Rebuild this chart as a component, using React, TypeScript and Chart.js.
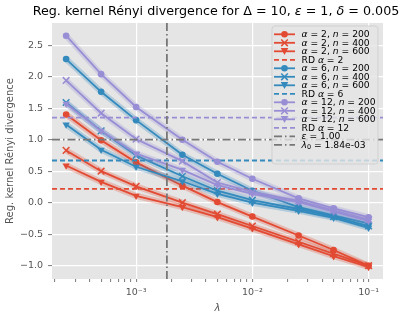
import React, { useEffect, useRef } from "react";
import { Chart, registerables } from "chart.js";

Chart.register(...registerables);

// ---------- data ----------
const lambdas = [2.5e-4, 5e-4, 1e-3, 2.5e-3, 5e-3, 1e-2, 2.5e-2, 5e-2, 1e-1];

const a2n200 = [1.4, 0.99, 0.64, 0.27, 0.01, -0.22, -0.52, -0.75, -1.0];
const a2n400 = [0.83, 0.5, 0.26, 0.0, -0.18, -0.37, -0.62, -0.81, -1.0];
const a2n600 = [0.59, 0.33, 0.11, -0.07, -0.23, -0.41, -0.66, -0.85, -1.02];

const a6n200 = [2.28, 1.76, 1.31, 0.76, 0.46, 0.19, -0.07, -0.2, -0.33];
const a6n400 = [1.59, 1.14, 0.75, 0.42, 0.19, 0.04, -0.1, -0.22, -0.37];
const a6n600 = [1.24, 0.84, 0.57, 0.34, 0.14, 0.0, -0.13, -0.24, -0.4];

const a12n200 = [2.65, 2.04, 1.52, 1.0, 0.65, 0.38, 0.07, -0.09, -0.23];
const a12n400 = [1.94, 1.42, 1.01, 0.66, 0.32, 0.17, 0.03, -0.12, -0.27];
const a12n600 = [1.57, 1.14, 0.78, 0.52, 0.28, 0.14, 0.01, -0.14, -0.29];

const rdA2 = 0.22;
const rdA6 = 0.67;
const rdA12 = 1.35;
const epsilonValue = 1.0;
const lambda0 = 1.84e-3;

const yTickValues = [-1.0, -0.5, 0.0, 0.5, 1.0, 1.5, 2.0, 2.5];
const xMin = 1.89e-4;
const xMax = 0.133;
const yMin = -1.211;
const yMax = 2.852;

// ---------- style ----------
const RED = "#E24A33";
const BLUE = "#348ABD";
const PURPLE = "#988ED5";
const GRAY = "#777777";
const FONT = '"DejaVu Sans", sans-serif';

function alpha(hex: string, a: number) {
  const r = parseInt(hex.slice(1, 3), 16);
  const g = parseInt(hex.slice(3, 5), 16);
  const b = parseInt(hex.slice(5, 7), 16);
  return `rgba(${r},${g},${b},${a})`;
}

type Seg = { t: string; it?: boolean; sub?: boolean };

function segWidth(ctx: CanvasRenderingContext2D, segs: Seg[], size: number) {
  let w = 0;
  for (const s of segs) {
    const sz = s.sub ? size * 0.7 : size;
    ctx.font = `${s.it ? "italic " : ""}${sz}px ${FONT}`;
    w += ctx.measureText(s.t).width;
  }
  return w;
}

function drawRich(
  ctx: CanvasRenderingContext2D,
  segs: Seg[],
  x: number,
  y: number,
  size: number,
  align: "left" | "center",
  color: string
) {
  const w = segWidth(ctx, segs, size);
  let cx = align === "center" ? x - w / 2 : x;
  ctx.fillStyle = color;
  ctx.textBaseline = "middle";
  ctx.textAlign = "left";
  for (const s of segs) {
    const sz = s.sub ? size * 0.7 : size;
    ctx.font = `${s.it ? "italic " : ""}${sz}px ${FONT}`;
    ctx.fillText(s.t, cx, y + (s.sub ? size * 0.25 : 0));
    cx += ctx.measureText(s.t).width;
  }
}

type SeriesDef = {
  alpha: string;
  n: string;
  values: number[];
  color: string;
  marker: "circle" | "cross" | "tri";
};

const series: SeriesDef[] = [
  { alpha: "2", n: "200", values: a2n200, color: RED, marker: "circle" },
  { alpha: "2", n: "400", values: a2n400, color: RED, marker: "cross" },
  { alpha: "2", n: "600", values: a2n600, color: RED, marker: "tri" },
  { alpha: "6", n: "200", values: a6n200, color: BLUE, marker: "circle" },
  { alpha: "6", n: "400", values: a6n400, color: BLUE, marker: "cross" },
  { alpha: "6", n: "600", values: a6n600, color: BLUE, marker: "tri" },
  { alpha: "12", n: "200", values: a12n200, color: PURPLE, marker: "circle" },
  { alpha: "12", n: "400", values: a12n400, color: PURPLE, marker: "cross" },
  { alpha: "12", n: "600", values: a12n600, color: PURPLE, marker: "tri" },
];

const rdLines = [
  { alpha: "2", value: rdA2, color: RED },
  { alpha: "6", value: rdA6, color: BLUE },
  { alpha: "12", value: rdA12, color: PURPLE },
];

type LegendItem = {
  kind: "series" | "dash" | "dashdot";
  color: string;
  marker?: "circle" | "cross" | "tri";
  segs: Seg[];
};

function buildLegend(): LegendItem[] {
  const items: LegendItem[] = [];
  rdLines.forEach((rd, gi) => {
    for (let k = 0; k < 3; k++) {
      const s = series[gi * 3 + k];
      items.push({
        kind: "series",
        color: s.color,
        marker: s.marker,
        segs: [{ t: "α", it: true }, { t: ` = ${s.alpha}, ` }, { t: "n", it: true }, { t: ` = ${s.n}` }],
      });
    }
    items.push({ kind: "dash", color: rd.color, segs: [{ t: "RD " }, { t: "α", it: true }, { t: ` = ${rd.alpha}` }] });
  });
  items.push({ kind: "dashdot", color: GRAY, segs: [{ t: "ε", it: true }, { t: ` = ${epsilonValue.toFixed(2)}` }] });
  items.push({
    kind: "dashdot",
    color: GRAY,
    segs: [{ t: "λ", it: true }, { t: "0", sub: true }, { t: ` = ${lambda0.toExponential(2).replace("e-", "e-0")}` }],
  });
  return items;
}

function drawMarker(ctx: CanvasRenderingContext2D, m: string, x: number, y: number, color: string) {
  ctx.save();
  ctx.fillStyle = color;
  ctx.strokeStyle = color;
  if (m === "circle") {
    ctx.beginPath();
    ctx.arc(x, y, 3.3, 0, Math.PI * 2);
    ctx.fill();
  } else if (m === "cross") {
    ctx.lineWidth = 1.5;
    ctx.beginPath();
    ctx.moveTo(x - 3.3, y - 3.3);
    ctx.lineTo(x + 3.3, y + 3.3);
    ctx.moveTo(x - 3.3, y + 3.3);
    ctx.lineTo(x + 3.3, y - 3.3);
    ctx.stroke();
  } else {
    ctx.beginPath();
    ctx.moveTo(x - 3.8, y - 3.2);
    ctx.lineTo(x + 3.8, y - 3.2);
    ctx.lineTo(x, y + 3.6);
    ctx.closePath();
    ctx.fill();
  }
  ctx.restore();
}

const bgPlugin = {
  id: "bgPlugin",
  beforeDraw(chart: any) {
    const { ctx, chartArea: a } = chart;
    ctx.save();
    ctx.fillStyle = "#ffffff";
    ctx.fillRect(0, 0, chart.width, chart.height);
    ctx.fillStyle = "#E5E5E5";
    ctx.fillRect(a.left, a.top, a.right - a.left, a.bottom - a.top);
    ctx.restore();
  },
};

const overlayPlugin = {
  id: "overlayPlugin",
  afterDraw(chart: any) {
    const { ctx, chartArea: a } = chart;
    ctx.save();
    // title
    drawRich(
      ctx,
      [
        { t: "Reg. kernel Rényi divergence for " },
        { t: "Δ" },
        { t: " = 10, " },
        { t: "ε", it: true },
        { t: " = 1, " },
        { t: "δ", it: true },
        { t: " = 0.005" },
      ],
      216,
      11.5,
      12.7,
      "center",
      "#000000"
    );
    // x label
    drawRich(ctx, [{ t: "λ", it: true }], (a.left + a.right) / 2, 308, 10, "center", "#555555");
    // y label
    ctx.save();
    ctx.translate(10, (a.top + a.bottom) / 2);
    ctx.rotate(-Math.PI / 2);
    drawRich(ctx, [{ t: "Reg. kernel Rényi divergence" }], 0, 0, 10, "center", "#555555");
    ctx.restore();

    // legend
    const items = buildLegend();
    const bx = 272, by = 26, bw = 106, bh = 138;
    ctx.beginPath();
    const r = 3;
    ctx.moveTo(bx + r, by);
    ctx.arcTo(bx + bw, by, bx + bw, by + bh, r);
    ctx.arcTo(bx + bw, by + bh, bx, by + bh, r);
    ctx.arcTo(bx, by + bh, bx, by, r);
    ctx.arcTo(bx, by, bx + bw, by, r);
    ctx.closePath();
    ctx.fillStyle = "rgba(229,229,229,0.8)";
    ctx.fill();
    ctx.strokeStyle = "rgba(204,204,204,0.8)";
    ctx.lineWidth = 1;
    ctx.stroke();

    const lx0 = 274, lx1 = 295, tx = 301.5;
    items.forEach((it, i) => {
      const y = 34.3 + i * 8.5;
      ctx.save();
      ctx.strokeStyle = it.color;
      ctx.lineWidth = 1.8;
      if (it.kind === "dash") ctx.setLineDash([5, 3]);
      if (it.kind === "dashdot") ctx.setLineDash([8, 3, 1.5, 3]);
      ctx.beginPath();
      ctx.moveTo(lx0, y);
      ctx.lineTo(lx1, y);
      ctx.stroke();
      ctx.restore();
      if (it.kind === "series" && it.marker) drawMarker(ctx, it.marker, (lx0 + lx1) / 2, y, it.color);
      drawRich(ctx, it.segs, tx, y + 0.5, 9.2, "left", "#000000");
    });
    ctx.restore();
  },
};

const SUP: Record<string, string> = { "-": "⁻", "0": "⁰", "1": "¹", "2": "²", "3": "³", "4": "⁴" };

export default function App() {
  const ref = useRef<HTMLCanvasElement | null>(null);

  useEffect(() => {
    document.body.style.margin = "0";
    if (!ref.current) return;

    const datasets: any[] = [];
    let drawIdx = 0;
    rdLines.forEach((rd, gi) => {
      for (let k = 0; k < 3; k++) {
        const s = series[gi * 3 + k];
        const data = lambdas.map((x, i) => ({ x, y: s.values[i] }));
        drawIdx++;
        datasets.push({
          data,
          borderColor: alpha(s.color, 0.28),
          borderWidth: 6,
          pointRadius: 0,
          fill: false,
          order: -drawIdx + 0.5,
        });
        datasets.push({
          data,
          borderColor: s.color,
          backgroundColor: s.color,
          borderWidth: 1.8,
          pointStyle: s.marker === "circle" ? "circle" : s.marker === "cross" ? "crossRot" : "triangle",
          pointRadius: s.marker === "circle" ? 3.3 : s.marker === "cross" ? 4.7 : 4.2,
          pointRotation: s.marker === "tri" ? 180 : 0,
          pointBorderWidth: s.marker === "cross" ? 1.5 : 0,
          pointBackgroundColor: s.color,
          pointBorderColor: s.color,
          fill: false,
          order: -drawIdx,
        });
      }
      drawIdx++;
      datasets.push({
        data: [
          { x: xMin, y: rd.value },
          { x: xMax, y: rd.value },
        ],
        borderColor: rd.color,
        borderWidth: 1.8,
        borderDash: [5, 3],
        pointRadius: 0,
        fill: false,
        order: -drawIdx,
      });
    });
    drawIdx++;
    datasets.push({
      data: [
        { x: xMin, y: epsilonValue },
        { x: xMax, y: epsilonValue },
      ],
      borderColor: GRAY,
      borderWidth: 1.8,
      borderDash: [8, 3, 1.5, 3],
      pointRadius: 0,
      fill: false,
      order: -drawIdx,
    });
    drawIdx++;
    datasets.push({
      data: [
        { x: lambda0, y: yMin },
        { x: lambda0, y: yMax },
      ],
      borderColor: GRAY,
      borderWidth: 1.8,
      borderDash: [8, 3, 1.5, 3],
      pointRadius: 0,
      fill: false,
      order: -drawIdx,
    });

    const isMajor = (v: number) => {
      const e = Math.round(Math.log10(v));
      return Math.abs(v - Math.pow(10, e)) / v < 1e-6;
    };

    const chart = new Chart(ref.current, {
      type: "line",
      data: { datasets },
      plugins: [bgPlugin, overlayPlugin],
      options: {
        animation: false,
        responsive: false,
        devicePixelRatio: 1,
        layout: { padding: { left: 0, top: 23, right: 24, bottom: 0 } },
        plugins: { legend: { display: false }, title: { display: false }, tooltip: { enabled: false } },
        elements: { line: { tension: 0 } },
        scales: {
          x: {
            type: "logarithmic",
            min: xMin,
            max: xMax,
            border: { display: false },
            afterBuildTicks: (scale: any) => {
              const t: any[] = [];
              for (let e = -4; e <= 0; e++) {
                for (let m = 1; m <= 9; m++) {
                  const v = m * Math.pow(10, e);
                  if (v >= xMin && v <= xMax) t.push({ value: v, major: m === 1 });
                }
              }
              scale.ticks = t;
            },
            afterFit: (scale: any) => {
              scale.height = 40;
            },
            grid: {
              color: (c: any) => (c.tick && isMajor(c.tick.value) ? "#ffffff" : "rgba(0,0,0,0)"),
              lineWidth: 1.2,
              tickColor: "#555555",
              tickLength: 3,
              tickWidth: 0.8,
              drawTicks: true,
            } as any,
            ticks: {
              autoSkip: false,
              maxRotation: 0,
              minRotation: 0,
              padding: 5,
              color: "#555555",
              font: { family: FONT, size: 9.5 },
              callback: (v: any) => {
                const val = Number(v);
                if (!isMajor(val)) return "";
                const e = Math.round(Math.log10(val));
                return "10" + String(e).split("").map((ch) => SUP[ch] || ch).join("");
              },
            },
          },
          y: {
            type: "linear",
            min: yMin,
            max: yMax,
            border: { display: false },
            afterBuildTicks: (scale: any) => {
              scale.ticks = yTickValues.map((v) => ({ value: v }));
            },
            afterFit: (scale: any) => {
              scale.width = 52;
            },
            grid: {
              color: "#ffffff",
              lineWidth: 1.2,
              tickColor: "#555555",
              tickLength: 4,
              tickWidth: 0.8,
            } as any,
            ticks: {
              padding: 5,
              color: "#555555",
              font: { family: FONT, size: 9.5 },
              callback: (v: any) => Number(v).toFixed(1).replace("-", "−"),
            },
          },
        },
      } as any,
    });

    return () => chart.destroy();
  }, []);

  return (
    <div style={{ position: "fixed", left: 0, top: 0 }}>
      <canvas ref={ref} width={407} height={319} style={{ display: "block", width: 407, height: 319 }} />
    </div>
  );
}
